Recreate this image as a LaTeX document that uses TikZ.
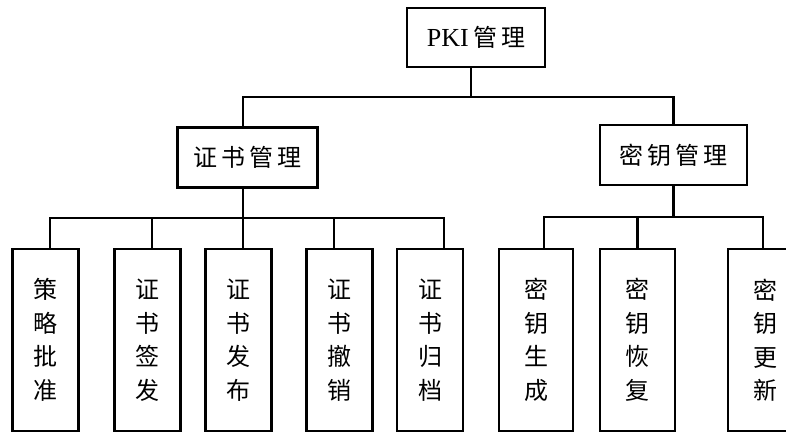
\documentclass[tikz,border=0pt]{standalone}
\usepackage{fontspec}
\setmainfont{Liberation Serif}
\newfontfamily\cjk{Noto Sans CJK SC}
\begin{document}
\begin{tikzpicture}[x=1pt,y=-1pt,
  box/.style={draw=black,line width=2.2pt,inner sep=0pt,fill=white},
  topbox/.style={box,minimum width=138pt,minimum height=59pt,font=\fontsize{26}{28}\selectfont},
  midbox/.style={box,minimum width=140pt,minimum height=60pt,font=\fontsize{24}{26}\selectfont\cjk},
  leaf/.style={box,minimum width=66pt,minimum height=182pt,align=center,font=\fontsize{24}{33.5}\selectfont\cjk},
  conn/.style={line width=2.2pt,line cap=rect}]
\useasboundingbox (0,0) rectangle (786,435);
\clip (0,0) rectangle (786,435);
\fill[white] (0,0) rectangle (786,435);

\node[topbox] (top) at (476,37.5) {PKI\,{\cjk\fontsize{24}{26}\selectfont 管\,理}};
\node[midbox] (cert) at (247.5,157.5) {证\,书\,管\,理};
\node[midbox,minimum width=147pt] (key) at (673.5,155) {密\,钥\,管\,理};

\node[leaf] (b1) at (45.5,340) {策\\略\\批\\准};
\node[leaf] (b2) at (147.5,340) {证\\书\\签\\发};
\node[leaf] (b3) at (238.5,340) {证\\书\\发\\布};
\node[leaf] (b4) at (339.5,340) {证\\书\\撤\\销};
\node[leaf] (b5) at (430,340) {证\\书\\归\\档};
\node[leaf,minimum width=74pt] (b6) at (536,340) {密\\钥\\生\\成};
\node[leaf,minimum width=75pt] (b7) at (637.5,340) {密\\钥\\恢\\复};
\node[leaf,minimum width=74pt] (b8) at (765,340) {密\\钥\\更\\新};

\coordinate (busA) at (0,97);
\coordinate (busB) at (0,218);
\coordinate (busC) at (0,217);

% top level
\coordinate (ts) at ([xshift=-5pt]top.south);
\coordinate (cn) at ([xshift=-4.5pt]cert.north);
\coordinate (kn) at (key.north);
\draw[conn] (ts) -- (ts |- busA);
\draw[conn] (cn |- busA) -- (kn |- busA);
\draw[conn] (cn |- busA) -- (cn);
\draw[conn] (kn |- busA) -- (kn);

% certificate branch
\coordinate (cs) at ([xshift=-4.5pt]cert.south);
\coordinate (n1) at ([xshift=4.5pt]b1.north);
\coordinate (n2) at ([xshift=4.5pt]b2.north);
\coordinate (n3) at ([xshift=4.5pt]b3.north);
\coordinate (n4) at ([xshift=-5.5pt]b4.north);
\coordinate (n5) at ([xshift=14pt]b5.north);
\draw[conn] (cs) -- (cs |- busB);
\draw[conn] (n1 |- busB) -- (n5 |- busB);
\foreach \n in {n1,n2,n3,n4,n5} \draw[conn] (\n |- busB) -- (\n);

% key branch
\coordinate (ks) at (key.south);
\coordinate (n6) at ([xshift=8pt]b6.north);
\coordinate (n7) at (b7.north);
\coordinate (n8) at ([xshift=-2pt]b8.north);
\draw[conn] (ks) -- (ks |- busC);
\draw[conn] (n6 |- busC) -- (n8 |- busC);
\foreach \n in {n6,n7,n8} \draw[conn] (\n |- busC) -- (\n);
\end{tikzpicture}
\end{document}
